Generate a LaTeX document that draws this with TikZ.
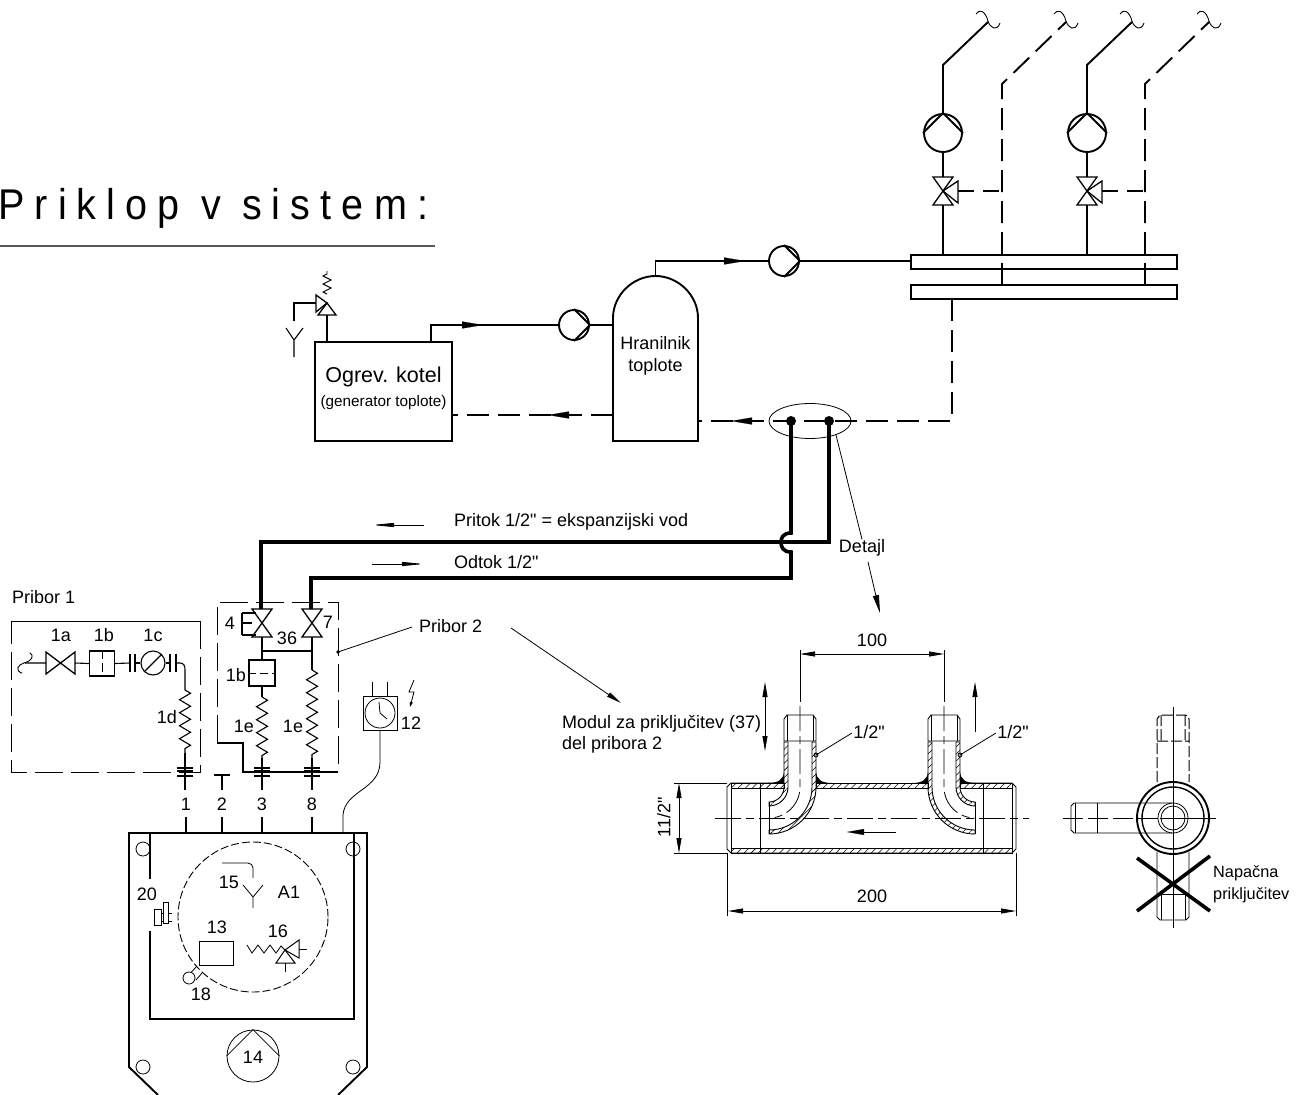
\documentclass[tikz,border=0pt]{standalone}
\usepackage{fontspec}
\setmainfont{Liberation Sans}
\newfontfamily\titlefont[LetterSpace=23.6,FakeStretch=.92]{Liberation Sans}
\newfontfamily\lblfont{Liberation Sans}
\usetikzlibrary{arrows.meta,calc,decorations.pathmorphing,patterns.meta,shapes.geometric}
\newcommand{\lbl}{\fontsize{18}{21}\selectfont\lblfont}
\newcommand{\bendout}[1]{.. controls ({#1-31},{787+#1*.5523}) and ({#1*.5523-31},{787+#1}) .. (-31,{787+#1})}
\newcommand{\bendback}[1]{.. controls ({#1*.5523-31},{787+#1}) and ({#1-31},{787+#1*.5523}) .. ({#1-31},787)}

\begin{document}
\begin{tikzpicture}[x=1pt,y=-1pt,line join=miter]

\tikzset{pipe/.style = {line width=1.9pt}}
\tikzset{heavy/.style = {line width=3.6pt}}
\tikzset{fine/.style = {line width=.8pt}}
\tikzset{back/.style = {pipe,dash pattern=on 22pt off 9pt}}
\tikzset{frame/.style = {line width=1pt,dash pattern=on 28pt off 8pt}}
\tikzset{axis/.style = {line width=.8pt,dash pattern=on 26pt off 5pt on 8pt off 5pt}}
\tikzset{hatch/.style = {pattern={Lines[angle=45,distance=5pt,line width=.55pt]},line width=.9pt}}
\tikzset{flow/.style = {-{Triangle[length=21pt,width=7pt]},line width=.1pt}}
\tikzset{dim/.style = {fine,{Triangle[length=15pt,width=5pt]}-{Triangle[length=15pt,width=5pt]}}}
\tikzset{lead/.style = {fine,-{Triangle[length=15pt,width=5pt]}}}
\tikzset{spring/.style = {line width=1.1pt,decorate,decoration={zigzag,segment length=13pt,amplitude=5.5pt}}}
\tikzset{pump/.style = {shape=circle,draw,pipe,inner sep=0pt,minimum size=#1}}
\tikzset{txt/.style = {inner sep=0pt,font=\lbl}}
\tikzset{pics/valve/.style = {code={\draw[line width=1.3pt] (-10,-14) -- (10,-14) -- (-10,14) -- (10,14) -- cycle;}}}
\tikzset{pics/curl/.style = {code={\draw[line width=.9pt] (-12,-8) .. controls (-9,-13) and (-3,-12) .. (0,-1) .. controls (2,6) and (9,10) .. (12,1);}}}
\tikzset{pics/coupling/.style = {code={
\draw[line width=1.1pt] (-8,-3) -- (8,-3) (-8,0) -- (8,0) (-8,5) -- (8,5);
\draw[line width=1.1pt] (0,-5) -- (0,19);
}}}
\tikzset{pics/elbow/.style = {code={
\draw[line width=.9pt] (-16,741) -- (-16,719) -- (-13,715) -- (13,715) -- (16,719) -- (16,741) -- cycle;
\draw[fine] (-13,715) -- (-13,741) (13,715) -- (13,741);
\filldraw[hatch] (16,742) -- (16,787) \bendout{47} -- (-31,830) \bendback{43} -- (12,742) -- cycle;
\filldraw[hatch] (-16,742) -- (-16,787) \bendout{15} -- (-31,806) \bendback{19} -- (-12,742) -- cycle;
\draw[line width=.9pt] (-31,802) -- (-31,834);
\fill (16,772) .. controls (17,780) and (22,783) .. (32,783) -- (16,783) -- cycle;
\fill (-16,772) .. controls (-17,780) and (-22,783) .. (-32,783) -- (-16,783) -- cycle;
\draw[fine] (0,650) -- (0,702);
\draw[fine,dash pattern=on 25pt off 5pt on 8pt off 5pt] (0,706) -- (0,787) \bendout{31};
}}}

% title
\useasboundingbox (0,0) rectangle (1299,1095);
\node[anchor=base west,inner sep=0pt,font=\fontsize{43}{50}\selectfont\titlefont] (title) at (-2,219) {Priklop v sistem:};
\coordinate (ta) at (0,246);
\coordinate (tb) at (435,246);
\draw[line width=1.3pt,black!65] (ta) -- (tb);

% heat source and storage
\node[draw,pipe,minimum width=137pt,minimum height=99pt,inner sep=0pt] (kotel) at (383.5,391.5) {};
\node[inner sep=0pt,font=\fontsize{21.5}{25}\selectfont\lblfont] (kotela) at (383.5,377) {Ogrev. kotel};
\node[inner sep=0pt,font=\fontsize{15.3}{18}\selectfont\lblfont] (kotelb) at (383.5,403) {(generator toplote)};
\node[pump=30pt] (pa) at (574,325) {};
\node[pump=30pt] (pb) at (784,261) {};
\foreach \p in {pa,pb}
\draw[pipe] (\p.south) -- (\p.east) -- (\p.north);
\foreach \pos/\name in {{(613,441)/ta1}, {(698,441)/ta2}, {(613,318)/ta3}, {(698,318)/ta4}, {(655.5,276)/tatop}, {(431,342)/kout}, {(452,415)/kback}, {(613,415)/tback}, {(698,421)/tret}, {(613,325)/tin}, {(911,261)/barin}, {(952,299)/barout}}
\node[coordinate] (\name) at \pos {};
\draw[pipe] (ta3) -- (ta1) -- (ta2) -- (ta4) .. controls (698,295) and (678,276) .. (tatop) .. controls (633,276) and (613,295) .. (ta3);
\node[txt] (tatxt) at (655.5,343) {Hranilnik};
\node[txt] (tatxb) at (655.5,367) {toplote};
\draw[pipe] (kout) |- (pa.west);
\draw[pipe] (pa.east) -- (tin);
\draw[pipe] (tatop) |- (pb.west);
\draw[pipe] (pb.east) -- (barin);
\draw[back] (tback) -- (kback);
\draw[back] (barout) |- (tret);
\foreach \a/\b in {{(462,325)/(483,325)}, {(722,261)/(745,261)}, {(570,415)/(548,415)}, {(752,421)/(731,421)}}
\draw[flow] \a -- \b;

% safety valve
\foreach \pos/\name in {{(327,303)/sv}, {(327,342)/svin}, {(316,303)/svl}, {(294,321)/svd}, {(294,340)/fa}, {(294,357)/fb}, {(286,328)/fc}, {(303,328)/fd}, {(327,294)/spa}, {(327,271)/spb}}
\node[coordinate] (\name) at \pos {};
\draw[pipe] (svin) -- (327,315);
\draw[line width=1.3pt] (sv) -- (318,315) -- (336,315) -- cycle;
\draw[line width=1.3pt] (sv) -- (316,295) -- (316,312) -- cycle;
\draw[line width=1.1pt] (svl) -| (svd);
\draw[line width=1.1pt] (fb) -- (fa) -- (fc) (fa) -- (fd);
\draw[line width=.9pt,decorate,decoration={zigzag,segment length=8pt,amplitude=4pt}] (spa) -- (spb);

% distributor
\node[draw,pipe,minimum width=266pt,minimum height=14pt,inner sep=0pt] (bara) at (1044,262) {};
\node[draw,pipe,minimum width=266pt,minimum height=14pt,inner sep=0pt] (barb) at (1044,292) {};
\foreach \x/\d/\n in {943/1002/a, 1087/1145/b}{
\node[pump=38pt] (cp\n) at (\x,133) {};
\draw[pipe] (cp\n.west) -- (cp\n.north) -- (cp\n.east);
\pic at (\x,191) {valve};
\coordinate (rv\n) at (\x,191);
\coordinate (rt\n) at (\x,177);
\coordinate (rb\n) at (\x,205);
\draw[line width=1.3pt] (rv\n) -- (\x+15,181) -- (\x+15,203) -- cycle;
\draw[pipe] (rb\n) -- (\x,255);
\draw[pipe] (rt\n) -- (cp\n.south);
\draw[pipe] (cp\n.north) -- (\x,65) -- (\x+45,22);
\pic at (\x+45,22) {curl};
\draw[back] (\d,285) -- (\d,84) -- (\d+64,22);
\pic at (\d+64,22) {curl};
\draw[pipe,dash pattern=on 16pt off 9pt] (\x+15,191) -- (\d,191);
}

% connection lines
\foreach \pos/\name in {{(791,421)/da}, {(829,421)/db}}
\fill \pos circle (5pt) coordinate (\name);
\node[draw,fine,shape=ellipse,minimum width=82pt,minimum height=35pt,inner sep=0pt] (ell) at (810,421) {};
\foreach \pos/\name in {{(262,623)/vfour}, {(312,623)/vseven}}{
\pic at \pos {valve};
\node[coordinate] (\name) at \pos {};
}
\draw[heavy] (db) -- (829,542) -| ($(vfour)+(-1,-14)$);
\draw[heavy] (da) -- (791,533) .. controls (783,533) and (781,538) .. (781,542) .. controls (781,547) and (783,552) .. (791,552) -- (791,578) -| ($(vseven)+(-1,-14)$);
\node[txt,anchor=west] (ptk) at (454,522) {Pritok 1/2" = ekspanzijski vod};
\node[txt,anchor=west] (odt) at (454,562) {Odtok 1/2"};
\draw[fine,-{Triangle[length=22pt,width=4pt]}] (424,525) -- (372,525);
\draw[fine,-{Triangle[length=22pt,width=4pt]}] (372,564) -- (424,564);
\node[txt] (det) at (862,548) {Detajl};
\draw[fine] (836,435) -- (det.north);
\coordinate (detend) at (880,613);
\draw[lead,-{Triangle[length=18pt,width=6pt]}] (868,562) -- (detend);

% accessory 1
\node[txt,anchor=west] (prone) at (12,597) {Pribor 1};
\draw[line width=1pt] (11,621) -- (200,621);
\draw[frame] (200,621) -- (200,772) -- (11,772) -- (11,621);
\foreach \pos/\name/\t in {{(61,635)/la/1a}, {(104,635)/lb/1b}, {(153,635)/lc/1c}, {(167,717)/ld/1d}, {(230,623)/lfour/4}, {(328,622)/lseven/7}, {(287,638)/lsix/36}, {(236,675)/lfb/1b}, {(244,726)/lfe/1e}, {(293,726)/lge/1e}, {(186,804)/lone/1}, {(222,804)/ltwo/2}, {(262,804)/lthree/3}, {(312,804)/leight/8}, {(411,723)/lclock/12}, {(229,882)/lfive/15}, {(289,892)/lai/A1}, {(147,894)/ltw/20}, {(217,927)/lthi/13}, {(278,931)/lsx/16}, {(201,994)/lei/18}, {(253,1057)/lft/14}, {(872,640)/lhun/100}, {(872,896)/ltwh/200}}
\node[txt] (\name) at \pos {\t};
\pic[rotate=-90,scale=.85] at (23,663) {curl};
\draw[line width=1.3pt] (46,652) -- (46,674) -- (75,652) -- (75,674) -- cycle;
\node[draw,line width=1.3pt,minimum size=25pt,inner sep=0pt] (fa1) at (102,663.5) {};
\node[draw,line width=1.1pt,shape=circle,minimum size=24pt,inner sep=0pt] (ma) at (153,663) {};
\draw[line width=1.1pt] (ma.south west) -- (ma.north east);
\draw[line width=1pt,dash pattern=on 9pt off 4pt] (fa1.north) -- (fa1.south);
\draw[line width=1.1pt] (25,663) -- (46,663) (75,663) -- (fa1.west) (fa1.east) -- (130,663);
\draw[line width=1.1pt] (130,654) -- (130,672) (135,654) -- (135,672) (135,663) -- (ma.west);
\draw[line width=1.1pt] (ma.east) -- (170,663) (170,654) -- (170,672) (176,654) -- (176,672);
\draw[line width=1.1pt] (176,663) -- (180,663) .. controls (184,663) and (185,666) .. (185,670) -- (185,690);
\draw[spring] (185,690) -- (185,753);
\draw[line width=1.1pt] (185,753) -- (185,769);
\pic at (185,771) {coupling};

% accessory 2
\draw[frame] (217,743) -- (217,602) -- (338,602) -- (338,772);
\draw[line width=1.1pt] (217,743) -- (243,743) -- (243,772) -- (338,772);
\node[txt,anchor=west] (prtwo) at (419,626) {Pribor 2};
\fill (338,652) circle (1.8pt) coordinate (pdot);
\draw[fine] (pdot) -- (412,627);
\node[draw,line width=1.1pt,minimum width=26pt,minimum height=26pt,inner sep=0pt] (fb1) at (262,673) {};
\draw[fine,dash pattern=on 8pt off 4pt] (fb1.west) -- (fb1.east);
\draw[line width=1.1pt] (242,613) -- (242,635) (242,613) -- (256,613) (242,635) -- (256,635) (242,623) -- (252,623);
\draw[line width=1.1pt] ($(vfour)+(0,14)$) -- (fb1.north);
\draw[line width=1.1pt] (262,651) -- (312,651);
\draw[line width=1.1pt] ($(vseven)+(0,14)$) -- (312,670);
\draw[line width=1.1pt] (fb1.south) -- (262,697);
\draw[spring] (262,697) -- (262,758);
\draw[spring] (312,670) -- (312,758);
\draw[line width=1.1pt] (262,758) -- (262,769) (312,758) -- (312,769);
\pic at (262,771) {coupling};
\pic at (312,771) {coupling};
\draw[line width=1.1pt] (214,775) -- (230,775) (222,775) -- (222,790);

% clock
\node[draw,line width=1pt,minimum size=34pt,inner sep=0pt] (clock) at (380,713) {};
\node[draw,fine,shape=circle,minimum size=30pt,inner sep=0pt] (dial) at (380,713) {};
\draw[fine] (379,702) -- (380,713) -- (387,719);
\draw[fine] (372,682) -- (372,696) (387,682) -- (387,696);
\draw[fine,->,>={Triangle[length=5pt,width=3pt]}] (414,680) -- (409,692) -- (414,692) -- (410,707);
\draw[fine] (clock.south) -- (380,762) .. controls (380,790) and (345,790) .. (343,815) -- (343,833);

% unit
\draw[pipe] (158,1095) -- (129,1067) -- (129,833) -- (367,833) -- (367,1067) -- (338,1095);
\draw[pipe] (150,833) -- (150,879) (150,931) -- (150,1019) -- (354,1019) -- (354,833);
\foreach \x in {186,222,262,312}
\draw[line width=1.1pt] (\x,817) -- (\x,833);
\foreach \pos in {{(143,849)}, {(353,849)}, {(143,1067)}, {(353,1067)}}
\draw[fine] \pos circle (7pt);
\draw[line width=.9pt,dash pattern=on 8pt off 3pt] (253,917) circle (75pt);
\draw[line width=.8pt,rounded corners=5pt] (222,863) -- (253,863) -- (253,878);
\draw[fine] (243,885) -- (253,897) -- (263,885) (253,897) -- (253,908);
\node[draw,fine,minimum width=34pt,minimum height=24pt,inner sep=0pt] (boxm) at (216,953) {};
\draw[fine] (247,945) -- (252,953) -- (258,945) -- (264,953) -- (270,945) -- (276,953) -- (281,946) -- (285,950);
\draw[line width=1pt] (285,950) -- (276,963) -- (295,963) -- cycle;
\draw[line width=1pt] (285,950) -- (299,940) -- (299,958) -- cycle;
\draw[fine] (285,963) -- (285,972) (299,949) -- (307,949);
\draw[fine] (154,909) rectangle (161,925);
\draw[fine] (163,902) rectangle (168,923);
\draw[fine] (161,913) -- (163,913) (161,921) -- (163,921) (168,913) -- (172,913) (168,921) -- (172,921);
\draw[fine] (189,978) circle (6pt);
\draw[fine] (191.5,972) -- (197,966) (196,980) -- (202,973);
\node[draw,fine,shape=circle,minimum size=52pt,inner sep=0pt] (mot) at (253,1056) {};
\draw[fine] (mot.west) -- (mot.north) -- (mot.east);

% detail
\node[txt,anchor=west] (modul) at (562,724) {Modul za priključitev (37)};
\node[txt,anchor=west] (modulb) at (562,745) {del pribora 2};
\draw[lead] (511,628) -- (621,703);
\draw[line width=.9pt] (784,783) -- (731,783) -- (727,787) -- (727,849) -- (731,853) -- (1012,853) -- (1016,849) -- (1016,787) -- (1012,783) -- (960,783);
\draw[line width=.9pt] (816,783) -- (928,783);
\draw[fine] (731,783) -- (731,853) (1012,783) -- (1012,853) (760,783) -- (760,853) (983,783) -- (983,853);
\foreach \a/\b in {{(731,783)/(784,788)}, {(816,783)/(928,788)}, {(960,783)/(1012,788)}, {(731,848)/(1012,853)}}
\filldraw[hatch,line width=.5pt] \a rectangle \b;
\pic at (800,0) {elbow};
\pic[xscale=-1] at (944,0) {elbow};
\draw[axis] (715,818) -- (1029,818);
\draw[flow,-{Triangle[length=17pt,width=6pt]}] (896,832) -- (847,832);
\draw[dim] (800,654) -- (944,654);
\draw[dim] (728,911) -- (1016,911);
\draw[dim] (679,783) -- (679,853);
\draw[fine] (674,783) -- (727,783) (674,853) -- (727,853);
\draw[fine] (727,853) -- (727,916) (1016,853) -- (1016,916);
\draw[dim] (765,682) -- (765,751);
\draw[lead] (975,732) -- (975,682);
\foreach \x/\n in {816/lka, 960/lkb}{
\draw[fine] (\x,755) circle (2pt);
\draw[fine] (\x,755) -- (\x+36,733);
\node[txt] (\n) at (\x+53,732) {1/2"};
}
\node[txt,rotate=90] (lin) at (664,817) {11/2"};

% side view
\coordinate (sc) at (1173,818);
\draw[pipe] (sc) circle (36pt);
\draw[line width=1.4pt] (sc) circle (31pt);
\draw[fine] (sc) circle (15pt) (sc) circle (12pt);
\draw[fine] (1173,707) -- (1173,928);
\draw[fine] (1160,818) -- (1216,818);
\draw[line width=.9pt,dash pattern=on 20pt off 5pt] (1063,818) -- (1160,818);
\draw[line width=1pt,dash pattern=on 11pt off 3pt] (1157,782) -- (1157,719) -- (1160,715) -- (1186,715) -- (1189,719) -- (1189,782) (1157,741) -- (1189,741) (1161,715) -- (1161,741) (1185,715) -- (1185,741);
\draw[line width=.9pt] (1172,803) -- (1074,803) -- (1071,806) -- (1071,830) -- (1074,833) -- (1172,833);
\draw[fine] (1097,803) -- (1097,833) (1075,803) -- (1075,833);
\draw[line width=.9pt] (1157,852) -- (1157,917) -- (1160,920) -- (1186,920) -- (1189,917) -- (1189,852);
\draw[fine] (1161,894) -- (1161,920) (1185,894) -- (1185,920) (1157,894) -- (1189,894);
\draw[heavy] (1137,858) -- (1210,911) (1210,856) -- (1137,911);
\node[anchor=west,inner sep=0pt,font=\fontsize{16.3}{19}\selectfont\lblfont] (nap) at (1213,873) {Napačna};
\node[anchor=west,inner sep=0pt,font=\fontsize{16.3}{19}\selectfont\lblfont] (napb) at (1213,895) {priključitev};

\end{tikzpicture}
\end{document}
